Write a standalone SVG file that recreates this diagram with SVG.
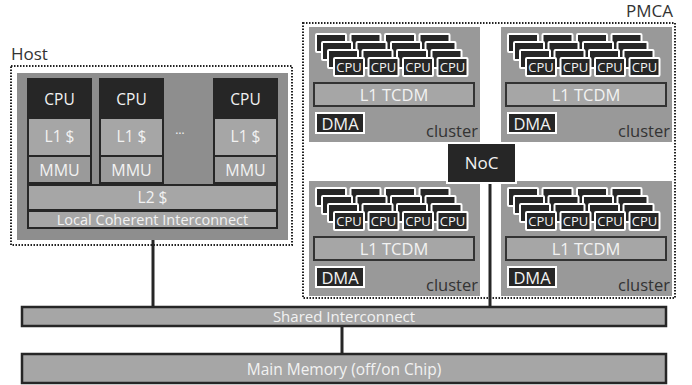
<svg xmlns="http://www.w3.org/2000/svg" xmlns:xlink="http://www.w3.org/1999/xlink" width="692" height="385" viewBox="0 0 692 385">
<style>
text{font-family:"Open Sans","Noto Sans","Liberation Sans",sans-serif}
.lbl{fill:#333}
.wt{fill:#f2f2f2;text-anchor:middle}
.dot{fill:none;stroke:#222;stroke-width:2;stroke-dasharray:1.5 1.5}
.dark{fill:#262626}
.cell{fill:#a6a6a6}
.mmu{fill:#9a9a9a}
.bar{fill:#a6a6a6;stroke:#262626;stroke-width:2.5}
.wire{stroke:#262626;stroke-width:3;fill:none}
.pe{fill:#262626;stroke:#fff;stroke-width:2}
</style>
<defs>
<g id="row">
<rect class="pe" x="0" y="0" width="30" height="18" rx="1"/>
<rect class="pe" x="34.5" y="0" width="30" height="18" rx="1"/>
<rect class="pe" x="69" y="0" width="30" height="18" rx="1"/>
<rect class="pe" x="103.5" y="0" width="30" height="18" rx="1"/>
</g>
<g id="clusterT">
<rect x="0" y="0" width="171" height="115" fill="#999"/>
<use xlink:href="#row" x="7" y="7"/>
<use xlink:href="#row" x="13" y="15"/>
<use xlink:href="#row" x="19" y="23"/>
<use xlink:href="#row" x="25" y="31"/>
<g font-size="13" class="wt">
<text x="40" y="45">CPU</text>
<text x="74.5" y="45">CPU</text>
<text x="109" y="45">CPU</text>
<text x="143.5" y="45">CPU</text>
</g>
<rect x="5" y="56" width="160" height="23" fill="#a6a6a6" stroke="#333" stroke-width="2"/>
<text class="wt" x="85" y="73.5" font-size="16.5">L1 TCDM</text>
<rect class="pe" x="7" y="86" width="48" height="20"/>
<text class="wt" x="31" y="102.5" font-size="16.5">DMA</text>
<text class="lbl" x="169" y="110" text-anchor="end" font-size="16.5">cluster</text>
</g>
</defs>

<g id="host">
<text class="lbl" x="11" y="60" font-size="17">Host</text>
<rect class="dot" x="11" y="66" width="281" height="179"/>
<rect x="17" y="73" width="271" height="167" fill="#8e8e8e"/>
</g>
<g id="core1">
<rect class="dark" x="27" y="78" width="65" height="106"/>
<rect class="cell" x="29" y="119" width="61" height="36"/>
<rect class="mmu" x="29" y="157" width="61" height="25"/>
<text class="wt" x="59.5" y="105" font-size="15.5">CPU</text>
<text class="wt" x="59.5" y="142" font-size="15.5">L1 $</text>
<text class="wt" x="59.5" y="175.5" font-size="16">MMU</text>
</g>
<g id="core2">
<rect class="dark" x="99" y="78" width="65" height="106"/>
<rect class="cell" x="101" y="119" width="61" height="36"/>
<rect class="mmu" x="101" y="157" width="61" height="25"/>
<text class="wt" x="131.5" y="105" font-size="15.5">CPU</text>
<text class="wt" x="131.5" y="142" font-size="15.5">L1 $</text>
<text class="wt" x="131.5" y="175.5" font-size="16">MMU</text>
</g>
<g id="dots"><text x="180" y="134" font-size="12" fill="#f2f2f2" text-anchor="middle">…</text></g>
<g id="core3">
<rect class="dark" x="213" y="78" width="65" height="106"/>
<rect class="cell" x="215" y="119" width="61" height="36"/>
<rect class="mmu" x="215" y="157" width="61" height="25"/>
<text class="wt" x="245.5" y="105" font-size="15.5">CPU</text>
<text class="wt" x="245.5" y="142" font-size="15.5">L1 $</text>
<text class="wt" x="245.5" y="175.5" font-size="16">MMU</text>
</g>
<g id="l2">
<rect x="28" y="185" width="249" height="25" fill="#a6a6a6" stroke="#262626" stroke-width="2"/>
<text class="wt" x="152.5" y="203" font-size="15.5">L2 $</text>
</g>
<g id="lci">
<rect x="28" y="211" width="249" height="17" fill="#a6a6a6" stroke="#262626" stroke-width="2"/>
<text class="wt" x="152.5" y="225" font-size="14.5">Local Coherent Interconnect</text>
</g>

<g id="pmca">
<text class="lbl" x="673" y="17" font-size="17" text-anchor="end">PMCA</text>
<rect class="dot" x="303" y="23" width="372" height="275"/>
</g>
<g id="cluster1"><use xlink:href="#clusterT" x="309" y="27"/></g>
<g id="cluster2"><use xlink:href="#clusterT" x="501" y="27"/></g>
<g id="cluster3"><use xlink:href="#clusterT" x="309" y="181"/></g>
<g id="cluster4"><use xlink:href="#clusterT" x="501" y="181"/></g>

<g id="connectors">
<line class="wire" x1="153" y1="240" x2="153" y2="307"/>
<line class="wire" x1="490" y1="183" x2="490" y2="307"/>
<line class="wire" x1="342" y1="326" x2="342" y2="354"/>
</g>

<g id="noc">
<rect x="447" y="143" width="69" height="40" fill="#262626" stroke="#fff" stroke-width="2"/>
<text class="wt" x="481.5" y="169" font-size="17">NoC</text>
</g>
<g id="shared">
<rect class="bar" x="22" y="307" width="644" height="19"/>
<text class="wt" x="344" y="322" font-size="15">Shared Interconnect</text>
</g>
<g id="mainmem">
<rect class="bar" x="22" y="354" width="644" height="29"/>
<text class="wt" x="344" y="374.5" font-size="15.5">Main Memory (off/on Chip)</text>
</g>
</svg>
